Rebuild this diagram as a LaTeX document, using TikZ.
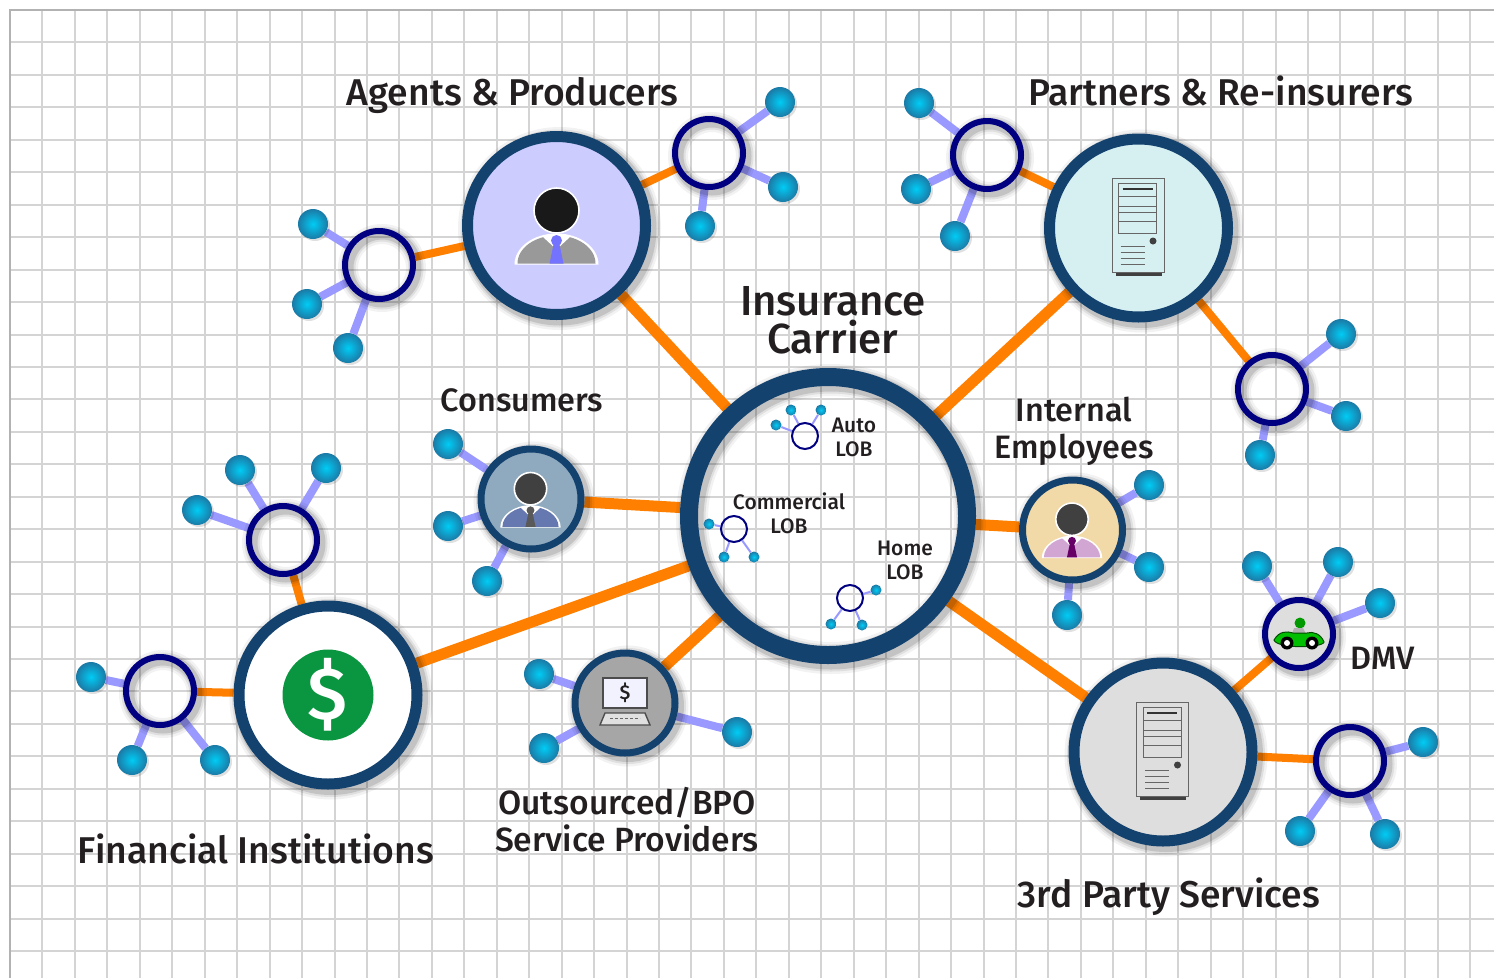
\documentclass[tikz,border=0pt]{standalone}
\usepackage{fontspec}
\setmainfont{Fira Sans Medium}
\usetikzlibrary{positioning}

\definecolor{ringblue}{HTML}{14426F}
\definecolor{hubnavy}{HTML}{000080}
\definecolor{linkorange}{HTML}{FF8000}
\definecolor{leafviolet}{HTML}{9999FF}
\definecolor{gridgray}{HTML}{D4D4D4}
\definecolor{inktext}{HTML}{231F20}
\definecolor{ballcore}{HTML}{00CCF5}
\definecolor{ballrim}{HTML}{1B7AA6}
\definecolor{agentsfill}{HTML}{CCCCFF}
\definecolor{partnersfill}{HTML}{D6F0F2}
\definecolor{consumersfill}{HTML}{8FAABF}
\definecolor{consumersbody}{HTML}{6578B0}
\definecolor{employeesfill}{HTML}{F2D9A8}
\definecolor{dollargreen}{HTML}{0A9640}

\pgfdeclarelayer{gridlayer}
\pgfdeclarelayer{linklayer}
\pgfsetlayers{gridlayer,linklayer,main}

\tikzset{
  softshadow/.style={
    preaction={draw=black,draw opacity=.05,line width=#1+14pt,transform canvas={shift={(3pt,-3pt)}}},
    preaction={draw=black,draw opacity=.08,line width=#1+9pt,transform canvas={shift={(3pt,-3pt)}}},
    preaction={draw=black,draw opacity=.12,line width=#1+5pt,transform canvas={shift={(3pt,-3pt)}}}
  },
  bigring/.style={circle,inner sep=0pt,draw=ringblue,line width=11pt,minimum size=178pt,softshadow=11pt},
  midring/.style={circle,inner sep=0pt,draw=ringblue,line width=7pt,minimum size=100pt,softshadow=7pt},
  hubring/.style={circle,inner sep=0pt,draw=hubnavy,line width=6pt,minimum size=68pt,softshadow=6pt},
  minihub/.style={circle,inner sep=0pt,draw=hubnavy,line width=2pt,minimum size=26pt},
  leafball/.style={circle,inner sep=0pt,minimum size=30pt,shading=radial,inner color=ballcore,outer color=ballrim,
    preaction={fill=black,fill opacity=.12,transform canvas={shift={(2pt,-2pt)}}}},
  miniball/.style={circle,inner sep=0pt,minimum size=11pt,shading=radial,inner color=ballcore,outer color=ballrim},
  orangelink/.style={draw=linkorange,line width=#1},
  leaflink/.style={draw=leafviolet,line width=8pt},
  minilink/.style={draw=leafviolet,line width=2pt},
  gridline/.style={draw=gridgray,line width=2pt},
  titlelabel/.style={inner sep=0pt,align=center,text=inktext,font=\fontsize{37.3}{38}\selectfont},
  sidelabel/.style={titlelabel,font=\fontsize{32.4}{37}\selectfont},
  loblabel/.style={inner sep=0pt,align=center,text=inktext,font=\fontsize{21}{24}\selectfont},
  iconline/.style={draw=black!60,line width=1pt}
}

% icons, all drawn around a node centre
\newcommand{\personicon}[5]{%
  \begin{scope}[shift={(#1)},scale=#2]
    \fill[white] (-42,39) arc[start angle=180,end angle=360,x radius=42,y radius=31] -- cycle;
    \fill[#4] (-39,38) arc[start angle=180,end angle=360,x radius=39,y radius=28] -- cycle;
    \fill[white] (-14,11) -- (0,24) -- (14,11) -- (0,8) -- cycle;
    \fill[#5] (0,15) circle[radius=5.5];
    \fill[#5] (-3,19) -- (3,19) -- (7,38) -- (-7,38) -- cycle;
    \draw[fill=#3,draw=white,line width=1.6pt] (0,-15) circle[radius=22.5];
  \end{scope}}
\newcommand{\servericon}[1]{%
  \begin{scope}[shift={(#1)}]
    \fill[black!75] (-23,44) rectangle (23,48);
    \draw[iconline] (-26.5,-50) rectangle (25.5,44);
    \draw[iconline] (-20,-45) rectangle (18,5);
    \draw[iconline] (-20,-32) -- (18,-32) (-20,-22) -- (18,-22) (-20,-16) -- (18,-16) (-20,-7) -- (18,-7);
    \draw[draw=black!80,line width=2pt] (-16,-39) -- (14,-39);
    \fill[black!75] (14.5,13) circle[radius=3.5];
    \foreach \ventline in {18,24,30,36}
      \draw[iconline] (-18,\ventline) -- (6,\ventline);
  \end{scope}}

\begin{document}
\begin{tikzpicture}[x=1pt,y=-1pt]
  \useasboundingbox (0,0) rectangle (1494,978);

  \begin{pgfonlayer}{gridlayer}
    \fill[white] (0,0) rectangle (1494,978);
    \foreach \k in {0,...,45}
      \draw[gridline] ({10+32.45*\k},10) -- ({10+32.45*\k},978);
    \foreach \k in {0,...,29}
      \draw[gridline] (10,{10+32.45*\k}) -- (1494,{10+32.45*\k});
    \draw[draw=black!30,line width=2.5pt] (10,978) -- (10,10) -- (1494,10);
  \end{pgfonlayer}

  % big circles
  \node[circle,inner sep=0pt,draw=ringblue,line width=18pt,minimum size=278pt,softshadow=18pt] (carrier) at (828,516) {};
  \node[bigring,preaction={fill=agentsfill}] (agents) at (556.5,225.5) {};
  \node[bigring,preaction={fill=partnersfill}] (partners) at (1138.5,228) {};
  \node[bigring,preaction={fill=white}] (financial) at (328,695) {};
  \node[bigring,preaction={fill=black!13}] (thirdparty) at (1163,752) {};

  % middle circles
  \node[midring,preaction={fill=consumersfill}] (consumers) at (531,499) {};
  \node[midring,preaction={fill=employeesfill}] (employees) at (1072.5,530) {};
  \node[midring,preaction={fill=black!35}] (outsourced) at (625,703) {};
  \node[hubring,preaction={fill=black!13}] (dmv) at (1299,634) {};

  % small hubs
  \node[hubring] (hubA) at (379,265) {};
  \node[hubring] (hubB) at (709,153) {};
  \node[hubring] (hubC) at (987,155) {};
  \node[hubring] (hubD) at (1272,389) {};
  \node[hubring] (hubE) at (283,540) {};
  \node[hubring] (hubF) at (160,691) {};
  \node[hubring] (hubG) at (1350,761) {};

  \begin{pgfonlayer}{linklayer}
    \foreach \from/\to in {agents/carrier,partners/carrier,financial/carrier,thirdparty/carrier,
        consumers/carrier,employees/carrier,outsourced/carrier}
      \draw[orangelink=11pt] (\from) -- (\to);
    \foreach \from/\to in {hubA/agents,hubB/agents,hubC/partners,hubD/partners,hubE/financial,
        hubF/financial,hubG/thirdparty,dmv/thirdparty}
      \draw[orangelink=8pt] (\from) -- (\to);
  \end{pgfonlayer}

  % leaves of all hubs
  \foreach \hub/\x/\y [count=\i] in {
      hubA/313/224,hubA/307/304,hubA/348/348,
      hubB/780/102,hubB/783/187,hubB/700/226,
      hubC/919/103,hubC/916/189,hubC/955/236,
      hubD/1341/334,hubD/1346/416,hubD/1260/455,
      hubE/197/510,hubE/240/470,hubE/326/468,
      hubF/91/677,hubF/132/760,hubF/215/760,
      hubG/1423/742,hubG/1300/831,hubG/1385/834,
      dmv/1257/566,dmv/1338/562,dmv/1380/603,
      consumers/448/444,consumers/448/526,consumers/487/581,
      employees/1149/485,employees/1149/567,employees/1067/615,
      outsourced/539/674,outsourced/544/748,outsourced/737/732}{
    \node[leafball] (leaf\i) at (\x,\y) {};
    \begin{pgfonlayer}{linklayer}
      \draw[leaflink] (\hub) -- (leaf\i);
    \end{pgfonlayer}
  }

  % lines of business inside the carrier
  \node[minihub] (autohub) at (805,436) {};
  \node[minihub] (commercialhub) at (734,529) {};
  \node[minihub] (homehub) at (850,598) {};
  \foreach \hub/\x/\y [count=\i] in {
      autohub/776/425,autohub/791/410,autohub/821/410,
      commercialhub/709/524,commercialhub/724/557,commercialhub/754/557,
      homehub/876/590,homehub/831/624,homehub/862/625}{
    \node[miniball] (mini\i) at (\x,\y) {};
    \begin{pgfonlayer}{linklayer}
      \draw[minilink] (\hub) -- (mini\i);
    \end{pgfonlayer}
  }

  % icons
  \personicon{556.5,225.5}{1}{black!90}{black!40}{blue!55!white}
  \personicon{530.5,499.5}{.72}{black!75}{consumersbody}{black!65}
  \personicon{1072,530}{.72}{black!75}{violet!35!white}{violet!80!black}
  \servericon{1138.5,228}
  \servericon{1163,752}

  \node[circle,fill=dollargreen,inner sep=0pt,minimum size=91pt,text=white,font=\fontsize{74}{74}\selectfont] (dollarmark) at (328,695) {\$};

  % laptop
  \begin{scope}[shift={(625,703)}]
    \draw[draw=black!70,line width=1.4pt,fill=blue!5!white] (-22,-25) rectangle (22,5);
    \draw[draw=black!70,line width=1.4pt,fill=black!12] (-20,10) -- (20,10) -- (25,22) -- (-25,22) -- cycle;
    \draw[draw=black!60,line width=1pt,dash pattern=on 3pt off 2pt] (-15,15) -- (15,15);
    \node[inner sep=0pt,text=inktext,font=\fontsize{20}{20}\selectfont] (laptopmark) at (0,-10) {\$};
  \end{scope}

  % car
  \begin{scope}[shift={(1299,634)}]
    \fill[green!60!black] (1,-11) circle[radius=5.5];
    \fill[black!30] (-5,-6) -- (4,-6) -- (7,0) -- (-7,0) -- cycle;
    \draw[fill=green!75!black,draw=black!70!green,line width=1pt] (-25,6) .. controls (-20,-3) and (-12,-3) .. (-6,-1) -- (8,-1) .. controls (14,-3) and (22,0) .. (25,8) .. controls (24,14) and (-22,15) .. (-25,6) -- cycle;
    \foreach \wheelx in {-12,13} {
      \fill[black] (\wheelx,9) circle[radius=6.5];
      \fill[white] (\wheelx,9) circle[radius=3];
    }
  \end{scope}

  % labels
  \node[titlelabel,anchor=base] (agentslabel) at (512.5,105) {Agents \& Producers};
  \node[titlelabel,anchor=base] (partnerslabel) at (1220.5,105) {Partners \& Re-insurers};
  \node[titlelabel,font=\fontsize{42}{38}\selectfont] (carrierlabel) at (833,320.5) {Insurance\\Carrier};
  \node[sidelabel,anchor=base] (consumerslabel) at (522,411) {Consumers};
  \node[sidelabel] (employeeslabel) at (1074,431.5) {Internal\\Employees};
  \node[sidelabel,anchor=base] (dmvlabel) at (1383,669) {DMV};
  \node[titlelabel,anchor=base] (financiallabel) at (256,863) {Financial Institutions};
  \node[titlelabel,font=\fontsize{33.6}{37}\selectfont] (outsourcedlabel) at (627,820) {Outsourced/BPO\\Service Providers};
  \node[titlelabel,anchor=base] (thirdpartylabel) at (1169,907) {3rd Party Services};
  \node[loblabel] (autolabel) at (854,437) {Auto\\LOB};
  \node[loblabel] (commerciallabel) at (789,513) {Commercial\\LOB};
  \node[loblabel] (homelabel) at (905,560) {Home\\LOB};
\end{tikzpicture}
\end{document}
